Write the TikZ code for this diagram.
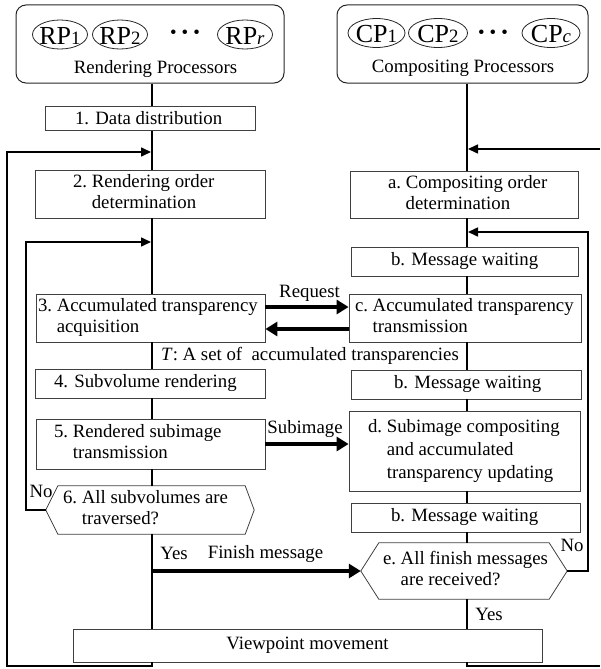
\documentclass[tikz,border=0pt]{standalone}
\usepackage{fontspec}
\setmainfont{Liberation Serif}
\usetikzlibrary{arrows.meta,shapes.geometric}

% two-line step text with a hanging indent after the step label
\newcommand\hangtwo[3]{\begin{tabular}{@{}l@{\hspace{.25em}}l@{}}#1&#2\\&#3\end{tabular}}
% left-aligned content of a given width with a given left padding
\newcommand\padl[3]{\makebox[#1pt][l]{\hspace*{#2pt}#3}}
% processor name with its index set on the baseline; zero-size box so the
% ellipse keeps its given size, baseline lowered by #1 below the centre
\newcommand\proc[3]{\makebox[0pt]{\raisebox{-#1pt}[0pt][0pt]{{\fontsize{26}{26}\selectfont #2}{\fontsize{18.8}{18.8}\selectfont #3}}}}

\tikzset{
  stepbox/.style={draw=black!75, line width=0.8pt, fill=white, inner xsep=0pt, inner ysep=0pt},
  procbox/.style={draw=black!85, line width=1pt, rounded corners=10pt, inner sep=0pt},
  procell/.style={draw=black!85, line width=0.8pt, ellipse, inner sep=0pt, minimum height=29pt},
  conn/.style={line width=1.6pt, black},
  thinarrow/.style={conn, -{Triangle[length=10pt,width=9pt]}},
  fatarrow/.style={line width=4.5pt, black, -{Triangle[length=12pt,width=14pt]}},
  lbl/.style={inner sep=0pt, anchor=base},
}

\begin{document}
\begin{tikzpicture}[x=1pt, y=-1pt, font=\fontsize{18.8}{21}\selectfont]
\useasboundingbox (0,0) rectangle (600,669);

% columns of the two process groups
\coordinate (lx) at (152,0);
\coordinate (rx) at (467,0);

% processor groups
\node[procbox, minimum width=268pt, minimum height=78pt] (rp) at (150,44) {};
\node[procell, minimum width=55pt] (rp1) at (60,34.5) {\proc{10}{RP}{1}};
\node[procell, minimum width=55pt] (rp2) at (120,34.5) {\proc{10}{RP}{2}};
\node[inner sep=0pt] (rpdots) at (185,34) {\textbullet\hspace{5pt}\textbullet\hspace{5pt}\textbullet};
\node[procell, minimum width=55pt] (rpr) at (245,34.5) {\proc{10}{RP}{\textit{r}}};
\node[lbl] (rptext) at (155.5,74) {Rendering Processors};

\node[procbox, minimum width=251pt, minimum height=78pt] (cp) at (462.5,44) {};
\node[procell, minimum width=57pt] (cp1) at (376.5,33) {\proc{10}{CP}{1}};
\node[procell, minimum width=59pt] (cp2) at (438,33) {\proc{10}{CP}{2}};
\node[inner sep=0pt] (cpdots) at (493,34) {\textbullet\hspace{5pt}\textbullet\hspace{5pt}\textbullet};
\node[procell, minimum width=58pt] (cpc) at (551,33) {\proc{10}{CP}{\textit{c}}};
\node[lbl] (cptext) at (463,73) {Compositing Processors};

% rendering side
\node[stepbox, minimum height=24pt] (dd) at (150,118.5) {\padl{210}{30}{1. Data distribution}};
\node[stepbox, minimum height=48pt] (r2) at (150,194) {\padl{230}{38}{\hangtwo{2.}{Rendering order}{determination}}};
\node[stepbox, minimum height=48pt] (r3) at (150.5,318) {\padl{229}{2}{\hangtwo{3.}{Accumulated transparency}{acquisition}}};
\node[stepbox, minimum height=29pt] (r4) at (150,383.5) {\padl{230}{19}{4. Subvolume rendering}};
\node[stepbox, minimum height=50pt] (r5) at (150.5,444) {\padl{229}{18}{\hangtwo{5.}{Rendered subimage}{transmission}}};
\node[inner xsep=0pt, inner ysep=0pt, minimum height=48pt] (h6) at (150,510) {\padl{208}{17}{\hangtwo{6.}{All subvolumes are}{traversed?}}};
\draw[black!75, line width=0.8pt] (h6.west) -- ([xshift=12pt]h6.north west) -- ([xshift=-9pt]h6.north east)
  -- (h6.east) -- ([xshift=-9pt]h6.south east) -- ([xshift=12pt]h6.south west) -- cycle;

% compositing side
\node[stepbox, minimum height=47pt] (ca) at (464,194.5) {\padl{228}{38}{\hangtwo{a.}{Compositing order}{determination}}};
\node[stepbox, minimum height=29pt] (cb1) at (464.5,261.5) {\padl{227}{40}{b. Message waiting}};
\node[stepbox, minimum height=48pt] (cc) at (465,318) {\padl{232}{6}{\hangtwo{c.}{Accumulated transparency}{transmission}}};
\node[stepbox, minimum height=29pt] (cb2) at (466,384.5) {\padl{230}{43}{b. Message waiting}};
\node[stepbox, minimum height=80pt] (cd) at (464.5,451) {\padl{231}{19}{\begin{tabular}{@{}l@{\hspace{.25em}}l@{}}d.&Subimage compositing\\[2pt]&and accumulated\\[2pt]&transparency updating\end{tabular}}};
\node[stepbox, minimum height=29pt] (cb3) at (465.5,517.5) {\padl{229}{40}{b. Message waiting}};
\node[inner xsep=0pt, inner ysep=0pt, minimum height=56pt] (he) at (464,571) {\padl{206}{22}{\hangtwo{e.}{All finish messages}{are received?}}};
\draw[black!75, line width=0.8pt] (he.west) -- ([xshift=18pt]he.north west) -- ([xshift=-18pt]he.north east)
  -- (he.east) -- ([xshift=-18pt]he.south east) -- ([xshift=18pt]he.south west) -- cycle;

% shared step
\node[stepbox, minimum width=469pt, minimum height=33pt] (vp) at (307.5,645.5) {Viewpoint movement};

% loop corners and merge points
\coordinate (botl) at (7,666);
\coordinate (mergeA) at (151,152);
\coordinate (loopl) at (26,242);
\coordinate (mergeB) at (151,242);
\coordinate (inR) at (600,149);
\coordinate (mergeC) at (468,149);
\coordinate (loopr) at (588,232);
\coordinate (mergeD) at (468,232);
\coordinate (botr) at (600,666);

% rendering flow
\draw[conn] (rp.south -| lx) -- (dd.north -| lx);
\draw[conn] (dd.south -| lx) -- (r2.north -| lx);
\draw[conn] (r2.south -| lx) -- (r3.north -| lx);
\draw[conn] (r3.south -| lx) -- (r4.north -| lx);
\draw[conn] (r4.south -| lx) -- (r5.north -| lx);
\draw[conn] (r5.south -| lx) -- (h6.north -| lx);
\draw[conn] (h6.south -| lx) -- (vp.north -| lx);
\draw[thinarrow] (vp.south -| lx) |- (botl) |- (mergeA);
\draw[thinarrow] (h6.west) -| (loopl) -- (mergeB);

% compositing flow
\draw[conn] (cp.south -| rx) -- (ca.north -| rx);
\draw[conn] (ca.south -| rx) -- (cb1.north -| rx);
\draw[conn] (cb1.south -| rx) -- (cc.north -| rx);
\draw[conn] (cc.south -| rx) -- (cb2.north -| rx);
\draw[conn] (cb2.south -| rx) -- (cd.north -| rx);
\draw[conn] (cd.south -| rx) -- (cb3.north -| rx);
\draw[conn] (cb3.south -| rx) -- (he.north -| rx);
\draw[conn] (he.south -| rx) -- (vp.north -| rx);
\draw[conn] (vp.south -| rx) |- (botr);
\draw[thinarrow] (inR) -- (mergeC);
\draw[thinarrow] (he.east) -| (loopr) -- (mergeD);

% messages between the groups
\draw[fatarrow] ([yshift=11pt]r3.east) -- ([yshift=11pt]cc.west);
\draw[fatarrow] ([yshift=-11pt]cc.west) -- ([yshift=-11pt]r3.east);
\draw[fatarrow] (r5.east) -- (r5.east -| cd.west);
\draw[fatarrow] (lx |- he.west) -- (he.west);

% labels
\node[lbl] (lreq) at (309.5,297) {Request};
\node[lbl] (lT) at (310,360) {\textit{T}: A set of~ accumulated transparencies};
\node[lbl] (lsub) at (305,433) {Subimage};
\node[lbl] (lno1) at (41,497) {No};
\node[lbl] (lyes1) at (174,559) {Yes};
\node[lbl] (lfin) at (265.5,558) {Finish message};
\node[lbl] (lno2) at (572,551.5) {No};
\node[lbl] (lyes2) at (489,620) {Yes};
\end{tikzpicture}
\end{document}
